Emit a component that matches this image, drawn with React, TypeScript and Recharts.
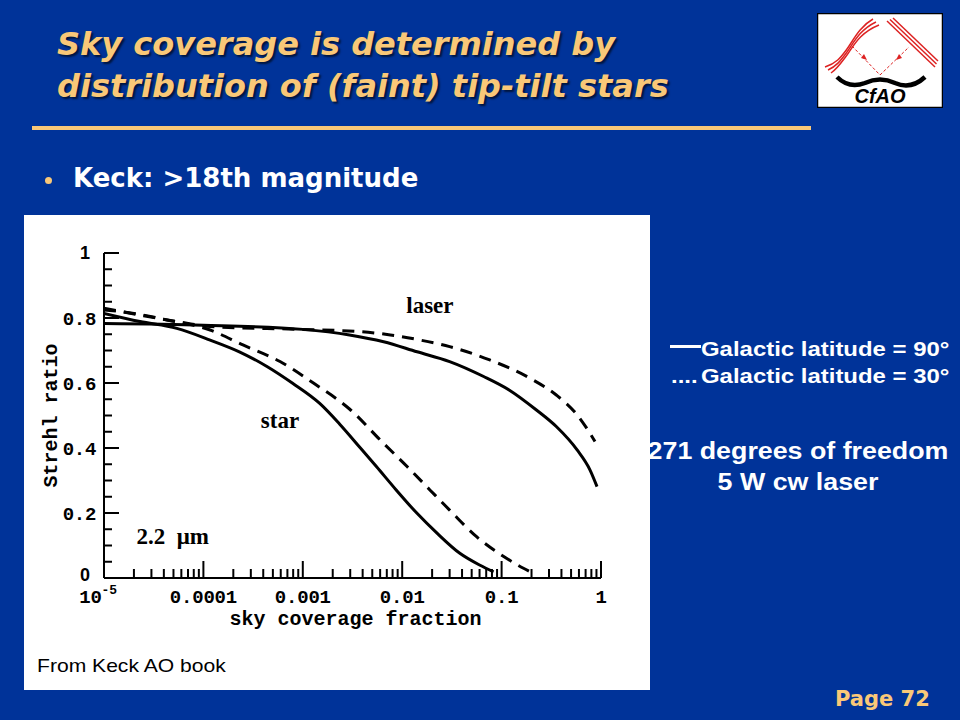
import React from "react";
import { LineChart, Line, XAxis, YAxis, ReferenceDot, Label } from "recharts";

// Strehl ratio vs sky coverage fraction
const starLat90 = [
  { x: 1e-5, y: 0.814 },
  { x: 2.3e-5, y: 0.789 },
  { x: 5.4e-5, y: 0.768 },
  { x: 1.17e-4, y: 0.732 },
  { x: 2.3e-4, y: 0.696 },
  { x: 4.4e-4, y: 0.65 },
  { x: 7.9e-4, y: 0.599 },
  { x: 1.48e-3, y: 0.537 },
  { x: 2.34e-3, y: 0.474 },
  { x: 3.8e-3, y: 0.4 },
  { x: 5.5e-3, y: 0.343 },
  { x: 8.7e-3, y: 0.271 },
  { x: 0.0141, y: 0.199 },
  { x: 0.0224, y: 0.138 },
  { x: 0.038, y: 0.076 },
  { x: 0.06, y: 0.04 },
  { x: 0.083, y: 0.019 },
];

const starLat30 = [
  { x: 1e-5, y: 0.825 },
  { x: 2e-5, y: 0.814 },
  { x: 4.3e-5, y: 0.794 },
  { x: 1.17e-4, y: 0.763 },
  { x: 2.5e-4, y: 0.717 },
  { x: 5.9e-4, y: 0.666 },
  { x: 1.29e-3, y: 0.599 },
  { x: 2.95e-3, y: 0.52 },
  { x: 6.5e-3, y: 0.414 },
  { x: 0.0112, y: 0.343 },
  { x: 0.019, y: 0.271 },
  { x: 0.03, y: 0.209 },
  { x: 0.056, y: 0.127 },
  { x: 0.105, y: 0.066 },
  { x: 0.166, y: 0.03 },
  { x: 0.195, y: 0.019 },
];

const laserLat90 = [
  { x: 1e-5, y: 0.783 },
  { x: 1e-4, y: 0.778 },
  { x: 1e-3, y: 0.765 },
  { x: 2.95e-3, y: 0.748 },
  { x: 6.5e-3, y: 0.727 },
  { x: 0.0141, y: 0.696 },
  { x: 0.03, y: 0.666 },
  { x: 0.066, y: 0.62 },
  { x: 0.12, y: 0.578 },
  { x: 0.224, y: 0.517 },
  { x: 0.355, y: 0.466 },
  { x: 0.575, y: 0.394 },
  { x: 0.776, y: 0.332 },
  { x: 0.912, y: 0.281 },
];

const laserLat30 = [
  { x: 1e-5, y: 0.83 },
  { x: 2.3e-5, y: 0.809 },
  { x: 5.4e-5, y: 0.789 },
  { x: 1.17e-4, y: 0.774 },
  { x: 9.3e-4, y: 0.765 },
  { x: 3.8e-3, y: 0.758 },
  { x: 7.6e-3, y: 0.748 },
  { x: 0.0141, y: 0.734 },
  { x: 0.03, y: 0.712 },
  { x: 0.076, y: 0.671 },
  { x: 0.195, y: 0.614 },
  { x: 0.355, y: 0.563 },
  { x: 0.575, y: 0.502 },
  { x: 0.776, y: 0.445 },
  { x: 0.87, y: 0.42 },
];

const xDecades = [1e-5, 1e-4, 1e-3, 0.01, 0.1, 1];
const xLabels = ["10", "0.0001", "0.001", "0.01", "0.1", "1"];
const minorFactors = [2, 3, 4, 5, 6, 7, 8, 9];
const xTicks = xDecades.flatMap((d, i) =>
  i < xDecades.length - 1 ? [d, ...minorFactors.map((f) => d * f)] : [d]
);
const yTicks = [0, 0.05, 0.1, 0.15, 0.2, 0.25, 0.3, 0.35, 0.4, 0.45, 0.5, 0.55, 0.6, 0.65, 0.7, 0.75, 0.8, 0.85, 0.9, 0.95, 1];
const yLabels: Record<string, string> = { "0.2": "0.2", "0.4": "0.4", "0.6": "0.6", "0.8": "0.8" };

const ORANGE = "#F9C878";
const BLUE = "#003399";
const MONO = "'Liberation Mono', 'DejaVu Sans Mono', monospace";
const SERIF = "'Liberation Serif', 'DejaVu Serif', serif";
const SANS = "'Liberation Sans', Arial, sans-serif";
const WIDE = "'DejaVu Sans', Verdana, sans-serif";

function decadeIndex(v: number) {
  return xDecades.findIndex((d) => Math.abs(d - v) / d < 1e-6);
}

function BottomTick({ x, y, payload }: any) {
  const i = decadeIndex(payload.value);
  const len = i >= 0 ? 17 : 9;
  const txt = { fontFamily: MONO, fontWeight: "bold", fontSize: 19, fill: "#000", letterSpacing: -0.2 };
  return (
    <g>
      <line x1={x} x2={x} y1={y} y2={y - len} stroke="#000" strokeWidth={2} />
      {i === 0 && (
        <text x={x - 6} y={y + 25} textAnchor="middle" {...txt}>
          10<tspan dy={-9} fontSize={13}>-5</tspan>
        </text>
      )}
      {i > 0 && (
        <text x={x} y={y + 25} textAnchor="middle" {...txt}>
          {xLabels[i]}
        </text>
      )}
    </g>
  );
}

function TopTick({ x, y, payload }: any) {
  const len = decadeIndex(payload.value) >= 0 ? 17 : 9;
  return <line x1={x} x2={x} y1={y} y2={y + len} stroke="#000" strokeWidth={2} />;
}

function isMajorY(v: number) {
  return Math.abs(v * 5 - Math.round(v * 5)) < 1e-6;
}

function LeftTick({ x, y, payload }: any) {
  const v = payload.value;
  const len = isMajorY(v) ? 15 : 8;
  const key = String(Math.round(v * 100) / 100);
  return (
    <g>
      <line x1={x} x2={x + len} y1={y} y2={y} stroke="#000" strokeWidth={2} />
      {yLabels[key] && (
        <text x={x - 8} y={y} dy="0.36em" textAnchor="end" fontFamily={MONO} fontWeight="bold" fontSize={19} letterSpacing={-0.3} fill="#000">
          {yLabels[key]}
        </text>
      )}
      {(v === 0 || v === 1) && (
        <text x={x - 19} y={v === 0 ? y - 3 : y} dy="0.36em" textAnchor="middle" fontFamily={SANS} fontWeight="bold" fontSize={18} fill="#000">
          {v === 0 ? "0" : "1"}
        </text>
      )}
    </g>
  );
}

function RightTick({ x, y, payload }: any) {
  const len = isMajorY(payload.value) ? 15 : 8;
  return <line x1={x} x2={x - len} y1={y} y2={y} stroke="#000" strokeWidth={2} />;
}

function YTitle({ viewBox }: any) {
  const cx = viewBox.x + 26;
  const cy = viewBox.y + viewBox.height / 2;
  return (
    <text x={cx} y={cy} transform={`rotate(-90 ${cx} ${cy})`} textAnchor="middle" dy="0.35em" fontFamily={MONO} fontWeight="bold" fontSize={20} fill="#000">
      Strehl ratio
    </text>
  );
}

function XTitle({ viewBox }: any) {
  const cx = viewBox.x + viewBox.width / 2 + 3;
  return (
    <text x={cx} y={viewBox.y + 47} textAnchor="middle" fontFamily={MONO} fontWeight="bold" fontSize={20} fill="#000">
      sky coverage fraction
    </text>
  );
}

function Logo() {
  return (
    <svg width={126} height={95} viewBox="0 0 126 95">
      <rect x={0.5} y={0.5} width={125} height={94} fill="#fff" stroke="#000" strokeWidth={1.5} />
      {[0, 3, 6].map((o) => (
        <path key={"w" + o} d={`M${8 + o},${54 + o} C20,${50 + o} 24,${44 + o} 30,${36 + o} S42,${14 + o} ${56 + o},${6 + o}`} fill="none" stroke="#d22" strokeWidth={1.5} />
      ))}
      {[0, 3, 6].map((o) => (
        <line key={"s" + o} x1={70 + o} y1={8 - o / 2} x2={118 + o / 2} y2={54 - o} stroke="#d22" strokeWidth={1.5} />
      ))}
      <line x1={35} y1={33} x2={63} y2={62} stroke="#d22" strokeWidth={1} strokeDasharray="3 2" />
      <line x1={63} y1={62} x2={92} y2={34} stroke="#d22" strokeWidth={1} strokeDasharray="3 2" />
      <path d="M44,45 L50,47 L47,41 Z" fill="#d22" />
      <path d="M82,41 L79,47 L85,45 Z" fill="#d22" />
      <path d="M20,64 Q32,76 48,70 Q63,63 78,70 Q94,77 108,64" fill="none" stroke="#000" strokeWidth={4.5} />
      <text x={63} y={90} textAnchor="middle" fontFamily={SANS} fontStyle="italic" fontWeight="bold" fontSize={20} fill="#000">
        CfAO
      </text>
    </svg>
  );
}

const abs = (left: number, top: number, extra: React.CSSProperties = {}): React.CSSProperties => ({
  position: "absolute",
  left,
  top,
  whiteSpace: "nowrap",
  ...extra,
});

const sideText: React.CSSProperties = {
  fontFamily: SANS,
  fontWeight: 700,
  fontSize: 21,
  lineHeight: "21px",
  color: "#fff",
  transform: "scaleX(1.14)",
  transformOrigin: "left",
};

export default function App() {
  const lineProps = { dataKey: "y", type: "monotone" as const, stroke: "#000", strokeWidth: 3, dot: false, isAnimationActive: false };
  const noteProps = { position: "center" as const, fill: "#000", fontFamily: SERIF, fontWeight: "bold", fontSize: 23 };
  return (
    <div style={{ position: "absolute", left: 0, top: 0, width: 960, height: 720, background: BLUE, overflow: "hidden" }}>
      <div
        style={abs(57, 23, {
          fontFamily: WIDE,
          fontStyle: "italic",
          fontWeight: 700,
          fontSize: 32,
          lineHeight: "42px",
          color: ORANGE,
          textShadow: "2px 2px 2px rgba(0,0,0,0.6)",
        })}
      >
        Sky coverage is determined by
        <br />
        distribution of (faint) tip-tilt stars
      </div>
      <div style={abs(32, 126, { width: 779, height: 4, background: ORANGE })} />
      <div style={abs(45, 177, { width: 7, height: 7, borderRadius: 4, background: ORANGE })} />
      <div style={abs(73, 162, { fontFamily: WIDE, fontWeight: 700, fontSize: 26, color: "#fff", lineHeight: "32px" })}>
        Keck: &gt;18th magnitude
      </div>

      <div style={abs(817, 13)}>
        <Logo />
      </div>

      <div style={abs(24, 215, { width: 626, height: 475, background: "#fff" })}>
        <LineChart width={626} height={475} margin={{ top: 38, right: 49, bottom: 0, left: 0 }}>
          <XAxis
            dataKey="x"
            type="number"
            scale="log"
            domain={[1e-5, 1]}
            ticks={xTicks}
            interval={0}
            height={112}
            tickSize={0}
            tickMargin={0}
            tickLine={false}
            tick={<BottomTick />}
            axisLine={{ stroke: "#000", strokeWidth: 2 }}
            allowDataOverflow
            label={<XTitle />}
          />
          <XAxis
            xAxisId="top"
            orientation="top"
            dataKey="x"
            type="number"
            scale="log"
            domain={[1e-5, 1]}
            ticks={xTicks}
            interval={0}
            height={0}
            tickSize={0}
            tickMargin={0}
            tickLine={false}
            tick={<TopTick />}
            axisLine={{ stroke: "#000", strokeWidth: 2 }}
            allowDataOverflow
          />
          <YAxis
            type="number"
            domain={[0, 1]}
            ticks={yTicks}
            interval={0}
            width={80}
            tickSize={0}
            tickMargin={0}
            tickLine={false}
            tick={<LeftTick />}
            axisLine={{ stroke: "#000", strokeWidth: 2 }}
            label={<YTitle />}
          />
          <YAxis
            yAxisId="right"
            orientation="right"
            type="number"
            domain={[0, 1]}
            ticks={yTicks}
            interval={0}
            width={0}
            tickSize={0}
            tickMargin={0}
            tickLine={false}
            tick={<RightTick />}
            axisLine={{ stroke: "#000", strokeWidth: 2 }}
          />
          <Line {...lineProps} data={starLat90} name="star, latitude 90°" />
          <Line {...lineProps} data={starLat30} name="star, latitude 30°" strokeDasharray="12 8" />
          <Line {...lineProps} data={laserLat90} name="laser, latitude 90°" />
          <Line {...lineProps} data={laserLat30} name="laser, latitude 30°" strokeDasharray="12 8" />
          <ReferenceDot x={0.019} y={0.84} r={0} stroke="none" fill="none">
            <Label value="laser" {...noteProps} />
          </ReferenceDot>
          <ReferenceDot x={0.00059} y={0.487} r={0} stroke="none" fill="none">
            <Label value="star" {...noteProps} />
          </ReferenceDot>
          <ReferenceDot x={4.9e-5} y={0.13} r={0} stroke="none" fill="none">
            <Label value={"2.2\u00a0\u00a0μm"} {...noteProps} />
          </ReferenceDot>
        </LineChart>
        <div style={abs(13, 440, { fontFamily: SANS, fontSize: 18.5, color: "#000", transform: "scaleX(1.14)", transformOrigin: "left" })}>
          From Keck AO book
        </div>
      </div>

      <div style={abs(670, 345, { width: 31, height: 3, background: "#fff" })} />
      <div style={abs(701, 338, sideText)}>Galactic latitude = 90°</div>
      <div style={abs(671, 365, sideText)}>....</div>
      <div style={abs(701, 365, sideText)}>Galactic latitude = 30°</div>
      <div
        style={abs(598, 436, {
          ...sideText,
          width: 400,
          textAlign: "center",
          fontSize: 23.5,
          lineHeight: "31px",
          transformOrigin: "center",
        })}
      >
        271 degrees of freedom
        <br />
        5 W cw laser
      </div>

      <div style={abs(835, 685, { fontFamily: WIDE, fontWeight: 700, fontSize: 21, color: ORANGE, lineHeight: "28px" })}>
        Page 72
      </div>
    </div>
  );
}
